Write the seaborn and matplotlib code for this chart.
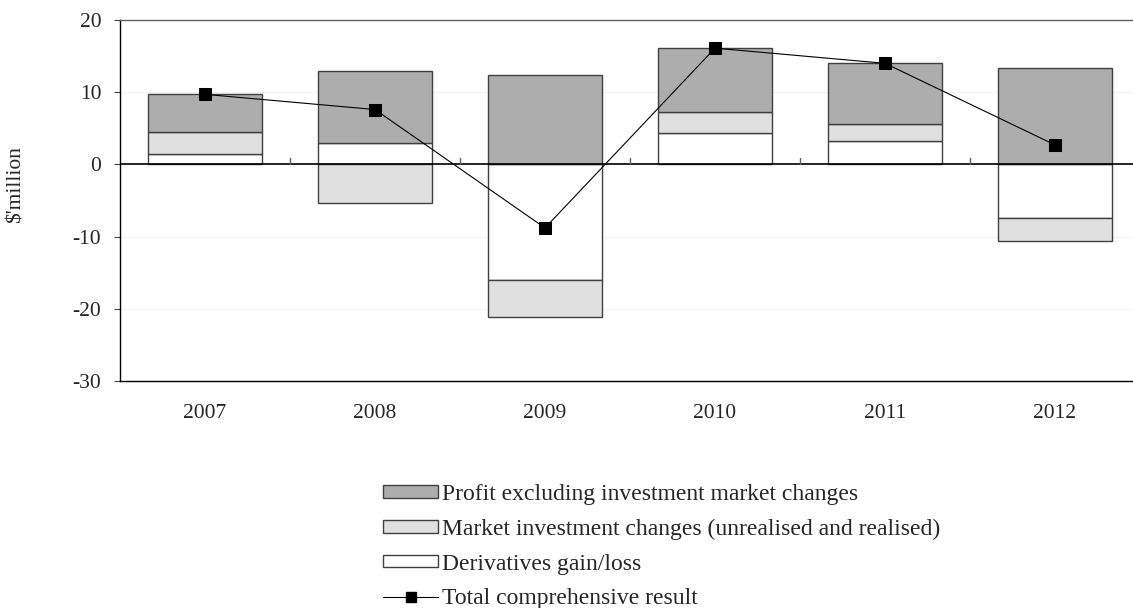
import matplotlib
matplotlib.use("Agg")
import matplotlib.pyplot as plt
from matplotlib.patches import Patch
from matplotlib.lines import Line2D
import numpy as np
import seaborn as sns

# values ($ million)
years = ["2007", "2008", "2009", "2010", "2011", "2012"]
derivatives = [1.4, 2.9, -16.0, 4.4, 3.2, -7.4]
market = [3.1, -5.4, -5.2, 2.8, 2.4, -3.2]
profit = [5.2, 10.1, 12.4, 8.9, 8.4, 13.3]
total = [9.7, 7.6, -8.8, 16.1, 14.0, 2.7]

labels = ["Derivatives gain/loss",
          "Market investment changes (unrealised and realised)",
          "Profit excluding investment market changes"]
colours = ["#FFFFFF", "#E0E0E0", "#ADADAD"]

sns.set_style("white")
plt.rcParams["font.family"] = ["Liberation Serif", "DejaVu Serif"]
plt.rcParams["axes.unicode_minus"] = False

fig = plt.figure(figsize=(11.33, 6.08), dpi=100)
ax = fig.add_axes([120 / 1133, 1 - 381 / 608, 1 - 120 / 1133, 361 / 608])

# stack positives up from zero and negatives down from zero
x = np.arange(len(years))
pos_base = np.zeros(len(years))
neg_base = np.zeros(len(years))
for vals, lab, col in zip([derivatives, market, profit], labels, colours):
    vals = np.array(vals)
    base = np.where(vals >= 0, pos_base, neg_base)
    ax.bar(x, vals, bottom=base, width=0.67, color=col, edgecolor="#404040",
           linewidth=1.0, zorder=2)
    pos_base = pos_base + np.where(vals >= 0, vals, 0)
    neg_base = neg_base + np.where(vals < 0, vals, 0)

sns.lineplot(x=x, y=total, ax=ax, color="black", linewidth=0.8,
             marker="s", markersize=8, markeredgecolor="black", zorder=4)

ax.axhline(0, color="black", linewidth=1.2, zorder=3)
for b in np.arange(0.5, len(years) - 0.5):
    ax.plot([b, b], [0, 0.9], color="#606060", linewidth=1.0, zorder=3)

ax.set_ylim(-30, 20)
ax.set_yticks([-30, -20, -10, 0, 10, 20])
ax.set_xlim(-0.5, 5.5 - 7 / 170)
ax.set_xticks(x)
ax.set_xticklabels(years)
for v in [-20, -10, 10]:
    ax.axhline(v, color="#F2F2F2", linewidth=0.8, zorder=1)

ax.tick_params(axis="y", left=True, length=4, width=0.8, color="#404040",
               labelsize=15.5, pad=9.5)
ax.tick_params(axis="x", bottom=False, labelsize=15.5, pad=13)
ax.spines["right"].set_visible(False)
for s in ["left", "bottom"]:
    ax.spines[s].set_color("black")
    ax.spines[s].set_linewidth(1.0)
ax.spines["top"].set_color("#606060")
ax.spines["top"].set_linewidth(1.0)
ax.set_ylabel("$'million", fontsize=15.5)
ax.yaxis.set_label_coords(-94 / 1013, (381 - 185) / 361)

handles = [Patch(facecolor=colours[2], edgecolor="#404040", label=labels[2]),
           Patch(facecolor=colours[1], edgecolor="#404040", label=labels[1]),
           Patch(facecolor=colours[0], edgecolor="#404040", label=labels[0]),
           Line2D([0], [0], color="black", linewidth=0.8, marker="s",
                  markersize=7, label="Total comprehensive result")]
fig.legend(handles=handles, loc="upper left", bbox_to_anchor=(383 / 1133, 1 - 484 / 608),
           frameon=False, fontsize=17, handlelength=2.33, handleheight=0.42,
           handletextpad=0.17, labelspacing=0.58, borderaxespad=0, borderpad=0)

fig.savefig("out.png", dpi=100)
